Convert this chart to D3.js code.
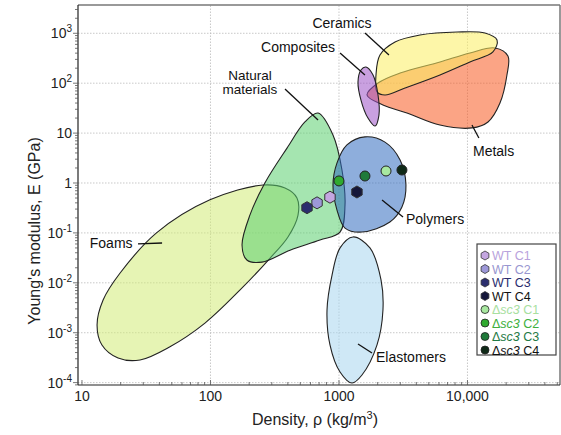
<!DOCTYPE html>
<html><head><meta charset="utf-8">
<script src="https://cdn.jsdelivr.net/npm/d3@7"></script>
<style>body{margin:0;background:#fff} text{font-family:"Liberation Sans",Arial,sans-serif}</style>
</head><body><svg id="c" width="561" height="435"></svg>
<script>
// ---------- data ----------
const xTicks = [10, 100, 1000, 10000];
const xTickLabels = ["10", "100", "1000", "10,000"];
const yTicks = [1e-4, 1e-3, 1e-2, 1e-1, 1, 10, 100, 1000];
const yTickBase = ["10", "10", "10", "10", "1", "10", "10", "10"];
const yTickExp = ["-4", "-3", "-2", "-1", "", "", "2", "3"];

// material property regions: [density kg/m3, modulus GPa]
const foams = [[256,0.91],[380,0.79],[471,0.50],[480,0.228],[401,0.083],[290,0.031],[170,0.0072],[90.6,0.00156],[48,0.000517],[28.3,0.000284],[19.1,0.000311],[14.3,0.000567],[13.1,0.00143],[14.6,0.00452],[19.8,0.0157],[38,0.1],[99,0.46]];
const natural = [[687,25.3],[898,9.2],[1055,1.82],[1114,0.36],[1019,0.104],[711,0.072],[416,0.045],[252,0.026],[192,0.0286],[176,0.057],[203,0.23],[265,1],[394,5.0],[543,16.7]];
const polymers = [[1593,8.4],[2280,6.6],[2990,2.9],[3320,0.91],[3090,0.33],[2490,0.165],[1510,0.104],[1114,0.125],[964,0.29],[898,0.91],[964,2.5],[1153,5.8]];
const elastomers = [[1285,0.083],[1742,0.050],[2124,0.0114],[2199,0.00285],[1977,0.00057],[1510,0.000142],[1262,0.000098],[1019,0.000163],[851,0.00057],[807,0.00285],[883,0.0143],[1019,0.050]];
const ceramics = [[2084,367],[2730,669],[4266,925],[8280,1062],[13680,1014],[16980,734],[15780,422],[10450,266],[6110,146],[3265,80],[2280,58],[1977,67],[1941,146]];
const metals = [[1652,58],[2013,101],[2990,160],[6110,266],[10450,403],[16370,508],[20650,351],[20280,146],[17900,40],[14450,16.7],[10840,12.7],[6110,14.5],[3380,25.3],[2199,36.6]];
const composites = [[1622,211],[1841,146],[2013,58],[2047,23],[1906,13.9],[1681,20],[1483,46],[1406,106],[1483,184]];

// measured samples
const seriesNames = ["WT C1","WT C2","WT C3","WT C4","\u0394sc3 C1","\u0394sc3 C2","\u0394sc3 C3","\u0394sc3 C4"];
const seriesDensity = [851, 675, 564, 1380, 2323, 1000, 1593, 3090];
const seriesModulus = [0.52, 0.40, 0.32, 0.66, 1.74, 1.10, 1.38, 1.82];

// annotation labels (data coords)
const labelTexts = ["Ceramics","Composites","Natural|materials","Foams","Polymers","Elastomers","Metals"];
const labelAt = [[1055,1277],[480,422],[203,116],[11.5,0.050],[3320,0.151],[1941,0.000259],[11040,3.48]];
const leaderFrom = [[1593,1014],[1019,403],[380,76.5],[27.3,0.06],[2163,0.456],[1406,0.000594],[10840,14.5]];
const leaderTo = [[2449,367],[1593,146],[687,18.3],[42,0.0628],[3150,0.208],[1807,0.000392],[12270,7.98]];

// ---------- styles ----------
const regionStyle = [
  {d: foams, fill: "#d2eb77"},
  {d: natural, fill: "#5bd06f"},
  {d: polymers, fill: "#326cbf"},
  {d: elastomers, fill: "#a8d5ef"},
  {d: metals, fill: "#f85a21"},
  {d: ceramics, fill: "#fbef61"},
  {d: composites, fill: "#9d52c7"}
];
const seriesFill = ["#c4a6e0","#9d98d8","#2b2e6e","#15173a","#a8e8a0","#2faa2f","#1f7a3a","#0f2a18"];
const seriesText = ["#b8a2dc","#9896d0","#2a2d6e","#111111","#a8e0a0","#3db03d","#1f7a45","#111111"];
const labelAnchor = ["middle","middle","middle","start","start","start","start"];

// ---------- chart ----------
const svg = d3.select("#c");
const x = d3.scaleLog().domain([Math.pow(10,0.969), Math.pow(10,4.72)]).range([78, 560]);
const y = d3.scaleLog().domain([Math.pow(10,-4.048), Math.pow(10,3.567)]).range([385, 5]);
const [x0,x1] = x.range(), [y0,y1] = y.range();

// grid
const grid = svg.append("g");
grid.selectAll("line.h").data(yTicks).join("line")
  .attr("x1", x0).attr("x2", x1).attr("y1", d=>y(d)).attr("y2", d=>y(d))
  .attr("stroke", "#bbb").attr("stroke-width", 0.8).attr("stroke-dasharray", "1.5,1.5");
grid.selectAll("line.v").data(xTicks.slice(1)).join("line")
  .attr("y1", y0).attr("y2", y1).attr("x1", d=>x(d)).attr("x2", d=>x(d))
  .attr("stroke", "#bbb").attr("stroke-width", 0.8).attr("stroke-dasharray", "1.5,1.5");

// regions
const line = d3.line().x(d=>x(d[0])).y(d=>y(d[1])).curve(d3.curveCatmullRomClosed.alpha(0.5));
svg.append("g").selectAll("path").data(regionStyle).join("path")
  .attr("d", r=>line(r.d)).attr("fill", r=>r.fill).attr("fill-opacity", 0.55)
  .attr("stroke", "#222").attr("stroke-width", 1.1);

// labels + leaders
const ann = svg.append("g");
labelTexts.forEach((t,i)=>{
  ann.append("line").attr("x1", x(leaderFrom[i][0])).attr("y1", y(leaderFrom[i][1]))
    .attr("x2", x(leaderTo[i][0])).attr("y2", y(leaderTo[i][1]))
    .attr("stroke", "#111").attr("stroke-width", 1.3);
  const parts = t.split("|");
  parts.forEach((p,j)=>{
    ann.append("text").attr("x", x(labelAt[i][0])).attr("y", y(labelAt[i][1]) + j*14.5)
      .attr("text-anchor", labelAnchor[i]).attr("font-size", parts.length>1 ? 13.5 : 14)
      .attr("fill", "#111").text(p);
  });
});

// hexagon path
function hex(r){
  const pts = d3.range(6).map(k=>{const a = Math.PI/6 + k*Math.PI/3; return [r*Math.cos(a), r*Math.sin(a)];});
  return "M" + pts.map(p=>p.join(",")).join("L") + "Z";
}
const pts = svg.append("g");
seriesNames.forEach((n,i)=>{
  const cx = x(seriesDensity[i]), cy = y(seriesModulus[i]);
  if (i < 4) {
    pts.append("path").attr("d", hex(6)).attr("transform", `translate(${cx},${cy})`)
      .attr("fill", seriesFill[i]).attr("stroke", "#333").attr("stroke-width", 1);
  } else {
    pts.append("circle").attr("cx", cx).attr("cy", cy).attr("r", 5)
      .attr("fill", seriesFill[i]).attr("stroke", "#222").attr("stroke-width", 1);
  }
});

// frame
svg.append("line").attr("x1", x0).attr("x2", x1).attr("y1", y1).attr("y2", y1).attr("stroke", "#777").attr("stroke-width", 1.5);
svg.append("line").attr("x1", x1).attr("x2", x1).attr("y1", y1).attr("y2", y0).attr("stroke", "#777").attr("stroke-width", 1.5);

// axes
const ax = svg.append("g");
ax.append("line").attr("x1", x0).attr("x2", x1).attr("y1", y0).attr("y2", y0).attr("stroke", "#222").attr("stroke-width", 1.2);
ax.append("line").attr("x1", x0).attr("x2", x0).attr("y1", y0).attr("y2", y1).attr("stroke", "#222").attr("stroke-width", 1.2);
const xAll = x.ticks(40).filter(v=>v>=x.domain()[0] && v<=x.domain()[1]);
ax.selectAll("line.xt").data(xAll).join("line")
  .attr("x1", d=>x(d)).attr("x2", d=>x(d)).attr("y1", y0)
  .attr("y2", d=> xTicks.includes(d) ? y0-5 : y0-3).attr("stroke", "#555").attr("stroke-width", 0.8);
const yAll = y.ticks(80).filter(v=>v>=y.domain()[0] && v<=y.domain()[1]);
ax.selectAll("line.yt").data(yAll).join("line")
  .attr("y1", d=>y(d)).attr("y2", d=>y(d)).attr("x1", x0)
  .attr("x2", d=> yTicks.some(t=>Math.abs(t-d)/t<1e-6) ? x0-5 : x0-3).attr("stroke", "#555").attr("stroke-width", 0.8);

ax.selectAll("text.xl").data(xTicks).join("text")
  .attr("x", d=>x(d)).attr("y", y0+16).attr("text-anchor", "middle")
  .attr("font-size", 14).attr("fill", "#222").text((d,i)=>xTickLabels[i]);
yTicks.forEach((t,i)=>{
  const tx = ax.append("text").attr("x", x0-6).attr("y", y(t)+5).attr("text-anchor", "end")
    .attr("font-size", 14).attr("fill", "#222");
  tx.append("tspan").text(yTickBase[i]);
  if (yTickExp[i]) tx.append("tspan").attr("dy", -6).attr("font-size", 10).text(yTickExp[i]);
});

// axis titles
const xt = svg.append("text").attr("x", 315).attr("y", 425).attr("text-anchor", "middle").attr("font-size", 16).attr("fill", "#222");
xt.append("tspan").text("Density, \u03c1  (kg/m");
xt.append("tspan").attr("dy", -6).attr("font-size", 11).text("3");
xt.append("tspan").attr("dy", 6).text(")");
svg.append("text").attr("transform", "translate(40,231) rotate(-90)").attr("text-anchor", "middle")
  .attr("font-size", 16).attr("fill", "#222").text("Young's modulus, E (GPa)");

// legend
const lg = svg.append("g");
lg.append("rect").attr("x", 477).attr("y", 244).attr("width", 79).attr("height", 111)
  .attr("fill", "#fff").attr("stroke", "#444").attr("stroke-width", 1.2);
seriesNames.forEach((n,i)=>{
  const cy = 255.5 + i*13.5;
  if (i < 4) {
    lg.append("path").attr("d", hex(4.5)).attr("transform", `translate(485,${cy})`)
      .attr("fill", seriesFill[i]).attr("stroke", "#333").attr("stroke-width", 0.8);
  } else {
    lg.append("circle").attr("cx", 485).attr("cy", cy).attr("r", 4)
      .attr("fill", seriesFill[i]).attr("stroke", "#222").attr("stroke-width", 0.8);
  }
  const t = lg.append("text").attr("x", 492).attr("y", cy+4.5).attr("font-size", 12.5).attr("fill", seriesText[i]);
  if (i < 4) t.text(n);
  else {
    t.append("tspan").text("\u0394");
    t.append("tspan").attr("font-style", "italic").text("sc3");
    t.append("tspan").text(" " + n.split(" ")[1]);
  }
});
</script></body></html>
